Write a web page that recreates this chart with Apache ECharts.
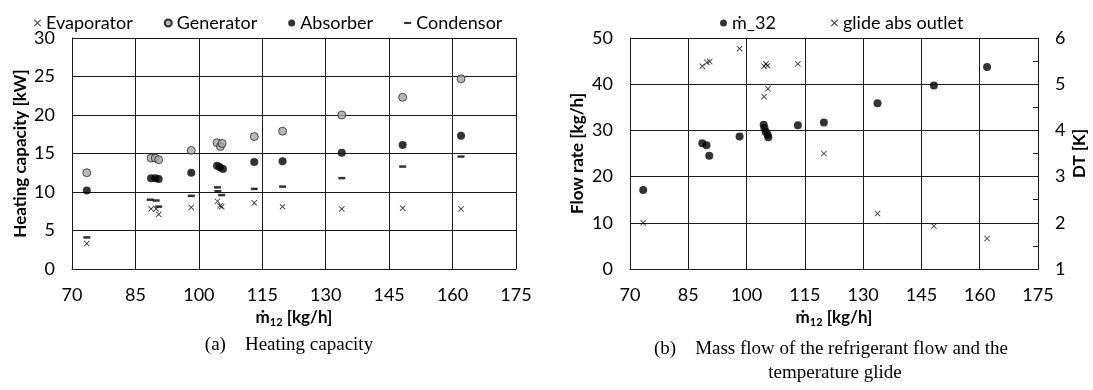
<!DOCTYPE html>
<html>
<head>
<meta charset="utf-8">
<script src="https://cdn.jsdelivr.net/npm/echarts@6/dist/echarts.min.js"></script>
<style>
  html, body {margin: 0; padding: 0; background: #fff;}
  #main {width: 1093px; height: 390px;}
</style>
</head>
<body>
<div id="main"></div>
<script>
// x axis (both panels): m12 [kg/h]
const xMin = 70, xMax = 175, xStep = 15;

// (a) heating capacity [kW]
const evapX = [73.5, 88.7, 89.9, 90.5, 98.2, 104.4, 105.0, 105.4, 113.1, 119.8, 133.8, 148.2, 162.0];
const evapY = [3.3, 7.8, 7.8, 7.1, 8.0, 8.8, 8.2, 8.1, 8.6, 8.1, 7.8, 7.9, 7.8];
const genX = [73.5, 88.7, 89.7, 90.5, 98.2, 104.3, 105.1, 105.5, 113.1, 119.8, 133.8, 148.2, 162.0];
const genY = [12.5, 14.4, 14.4, 14.2, 15.4, 16.4, 15.9, 16.3, 17.2, 17.9, 20.0, 22.3, 24.7];
const absX = [73.5, 88.7, 89.7, 90.5, 98.2, 104.3, 105.0, 105.7, 113.1, 119.8, 133.8, 148.2, 162.0];
const absY = [10.2, 11.8, 11.8, 11.7, 12.5, 13.4, 13.2, 13.0, 13.9, 14.0, 15.1, 16.1, 17.3];
const condX = [73.5, 88.5, 89.9, 90.5, 98.2, 104.4, 104.5, 105.4, 113.1, 119.8, 133.8, 148.2, 162.0];
const condY = [4.1, 9.0, 8.9, 8.1, 9.5, 10.6, 10.1, 9.6, 10.4, 10.7, 11.8, 13.3, 14.6];
const capMin = 0, capMax = 30, capStep = 5;

// (b) refrigerant mass flow [kg/h] and temperature glide [K]
const m32X = [73.4, 88.6, 89.7, 90.4, 98.2, 104.4, 104.6, 104.9, 105.4, 105.6, 113.2, 119.9, 133.7, 148.2, 161.9];
const m32Y = [17.1, 27.2, 26.8, 24.5, 28.7, 31.2, 30.5, 29.7, 29.1, 28.5, 31.1, 31.7, 35.9, 39.7, 43.7];
const glideX = [73.4, 88.6, 89.8, 90.5, 98.2, 104.5, 105.0, 105.4, 104.5, 105.5, 113.2, 119.9, 133.7, 148.2, 161.9];
const glideY = [2.0, 5.39, 5.47, 5.49, 5.77, 5.39, 5.44, 5.40, 4.73, 4.90, 5.44, 3.50, 2.20, 1.93, 1.66];
const flowMin = 0, flowMax = 50, flowStep = 10;
const dtMin = 1, dtMax = 6, dtStep = 1;

const pairs = (xs, ys) => xs.map((x, i) => [x, ys[i]]);

const FONT = 'Lato, "Open Sans", sans-serif';
const SERIF = '"Liberation Serif", "DejaVu Serif", serif';
const LINE = '#1a1a1a';
const CROSS = 'path://M0,1L1,0L5,4L9,0L10,1L6,5L10,9L9,10L5,6L1,10L0,9L4,5Z';
const DASH = 'path://M0,0L10,0L10,3L0,3Z';

const labelStyle = {color: '#000', fontFamily: FONT, fontSize: 18, margin: 17};
const xName = '{m|ṁ}{s|12}{m| [kg/h]}';
const xNameStyle = {
  color: '#000', fontFamily: FONT,
  rich: {
    m: {fontSize: 17, fontWeight: 'bold', fontFamily: FONT, color: '#000'},
    s: {fontSize: 11, fontWeight: 'bold', fontFamily: FONT, color: '#000', padding: [10, 0, 0, 0]}
  }
};
const yNameStyle = {color: '#000', fontFamily: FONT, fontSize: 17, fontWeight: 'bold'};

function xAxisFor(grid, gap) {
  return {
    type: 'value', gridIndex: grid, min: xMin, max: xMax, interval: xStep,
    name: xName, nameLocation: 'middle', nameGap: gap, nameTextStyle: xNameStyle,
    axisLine: {show: true, lineStyle: {color: LINE}},
    axisTick: {show: false},
    splitLine: {show: true, lineStyle: {color: LINE}},
    axisLabel: labelStyle
  };
}

const chart = echarts.init(document.getElementById('main'));
chart.setOption({
  animation: false,
  backgroundColor: '#fff',
  textStyle: {fontFamily: FONT},
  grid: [
    {left: 72, right: 577, top: 38, bottom: 121},
    {left: 630, right: 55, top: 38, bottom: 121}
  ],
  legend: [
    {
      left: 29, top: 9, itemWidth: 7, itemHeight: 7, itemGap: 31,
      textStyle: {fontFamily: FONT, fontSize: 18, color: '#000'},
      data: [
        {name: 'Evaporator', icon: CROSS},
        {name: 'Generator'},
        {name: 'Absorber'},
        {name: 'Condensor', icon: DASH}
      ]
    },
    {
      left: 715, top: 9, itemWidth: 7, itemHeight: 7, itemGap: 55,
      textStyle: {fontFamily: FONT, fontSize: 18, color: '#000'},
      data: [{name: 'ṁ_32'}, {name: 'glide abs outlet', icon: CROSS}]
    }
  ],
  xAxis: [xAxisFor(0, 38), xAxisFor(1, 33)],
  yAxis: [
    {
      type: 'value', gridIndex: 0, min: capMin, max: capMax, interval: capStep,
      name: 'Heating capacity [kW]', nameLocation: 'middle', nameGap: 43, nameRotate: 90,
      nameTextStyle: yNameStyle,
      axisLine: {show: true, lineStyle: {color: LINE}},
      axisTick: {show: false},
      splitLine: {show: true, lineStyle: {color: LINE}},
      axisLabel: labelStyle
    },
    {
      type: 'value', gridIndex: 1, min: flowMin, max: flowMax, interval: flowStep,
      name: 'Flow rate [kg/h]', nameLocation: 'middle', nameGap: 44, nameRotate: 90,
      nameTextStyle: yNameStyle,
      axisLine: {show: true, lineStyle: {color: LINE}},
      axisTick: {show: false},
      splitLine: {show: true, lineStyle: {color: LINE}},
      axisLabel: labelStyle
    },
    {
      type: 'value', gridIndex: 1, position: 'right', min: dtMin, max: dtMax, interval: dtStep,
      name: 'DT [K]', nameLocation: 'middle', nameGap: 33, nameRotate: 90,
      nameTextStyle: yNameStyle,
      axisLine: {show: true, lineStyle: {color: LINE}},
      axisTick: {show: true, inside: true, length: 5, lineStyle: {color: LINE}},
      minorTick: {show: true, splitNumber: 2, length: 5, lineStyle: {color: LINE}},
      splitLine: {show: false},
      axisLabel: labelStyle
    }
  ],
  series: [
    {
      name: 'Evaporator', type: 'scatter', xAxisIndex: 0, yAxisIndex: 0,
      symbol: CROSS, symbolSize: 6, itemStyle: {color: '#000'},
      data: pairs(evapX, evapY)
    },
    {
      name: 'Generator', type: 'scatter', xAxisIndex: 0, yAxisIndex: 0,
      symbol: 'circle', symbolSize: 8,
      itemStyle: {color: '#a6a6a6', borderColor: '#000', borderWidth: 0.8},
      data: pairs(genX, genY)
    },
    {
      name: 'Absorber', type: 'scatter', xAxisIndex: 0, yAxisIndex: 0,
      symbol: 'circle', symbolSize: 8, itemStyle: {color: '#000'},
      data: pairs(absX, absY)
    },
    {
      name: 'Condensor', type: 'scatter', xAxisIndex: 0, yAxisIndex: 0,
      symbol: 'rect', symbolSize: [7, 2.5], itemStyle: {color: '#000'},
      data: pairs(condX, condY)
    },
    {
      name: 'ṁ_32', type: 'scatter', xAxisIndex: 1, yAxisIndex: 1,
      symbol: 'circle', symbolSize: 8, itemStyle: {color: '#000'},
      data: pairs(m32X, m32Y)
    },
    {
      name: 'glide abs outlet', type: 'scatter', xAxisIndex: 1, yAxisIndex: 2,
      symbol: CROSS, symbolSize: 6, itemStyle: {color: '#000'},
      data: pairs(glideX, glideY)
    }
  ],
  graphic: [
    {type: 'text', x: 289, y: 345, style: {text: '(a)    Heating capacity', fill: '#000',
      font: '19px ' + SERIF, textAlign: 'center', textVerticalAlign: 'middle'}},
    {type: 'text', x: 831, y: 349, style: {text: '(b)    Mass flow of the refrigerant flow and the', fill: '#000',
      font: '19px ' + SERIF, textAlign: 'center', textVerticalAlign: 'middle'}},
    {type: 'text', x: 835, y: 373, style: {text: 'temperature glide', fill: '#000',
      font: '19px ' + SERIF, textAlign: 'center', textVerticalAlign: 'middle'}}
  ]
});
</script>
</body>
</html>
